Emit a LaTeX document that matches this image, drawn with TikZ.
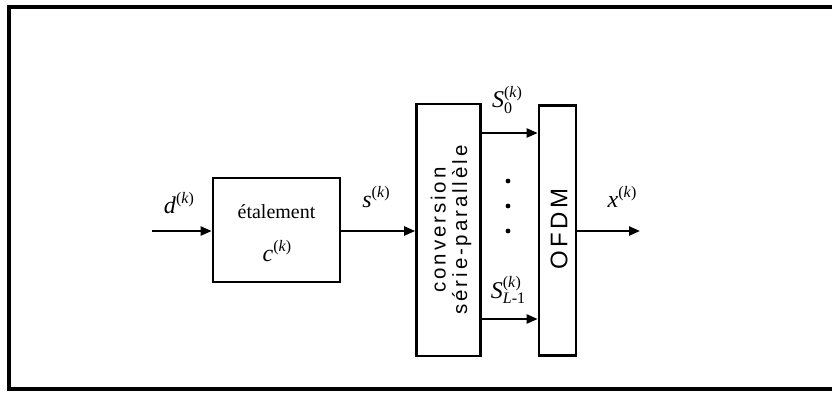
\documentclass[tikz,border=0pt]{standalone}
\usepackage{fontspec}
\setmainfont{Liberation Serif}
\newfontfamily\boxsans[LetterSpace=14]{Liberation Sans}
\usetikzlibrary{arrows.meta}
\tikzset{
  blk/.style={draw, line width=2.6pt, inner sep=0pt},
  conn/.style={line width=2.2pt, -{Triangle[length=11pt,width=9pt]}},
  lab/.style={font=\fontsize{24}{26}\selectfont, inner sep=0pt},
  frameline/.style={line width=3.2pt}
}
\newcommand{\kup}{\raisebox{0.95ex}{\fontsize{16}{18}\selectfont(\textit{k})}}
\newcommand{\supk}[1]{\textit{#1}\kup}
\begin{document}
\begin{tikzpicture}[x=1pt,y=-1pt]
\useasboundingbox (0,0) rectangle (832,394);
% frame (open on the right)
\draw[frameline] (832,7) -- (9,7) -- (9,389) -- (832,389);
% blocks
\node[blk, minimum width=127pt, minimum height=104pt] (etal) at (276.5,230) {};
\node[blk, minimum width=64pt, minimum height=252pt] (conv) at (448.5,230) {};
\node[blk, minimum width=37pt, minimum height=250pt] (ofdm) at (557.5,230.5) {};
% block texts
\node[font=\fontsize{20}{22}\selectfont, inner sep=0pt] (etaltxt) at (276.5,212) {étalement};
\node[lab] (ck) at (277,251) {\supk{c}};
\node[rotate=90, align=center, inner sep=0pt, font=\boxsans\fontsize{20.5}{21.5}\selectfont] (convtxt) at (451,230) {conversion\\série-parallèle};
\node[rotate=90, inner sep=0pt, font=\boxsans\fontsize{24}{24}\selectfont] (ofdmtxt) at (559,229) {OFDM};
% input / output
\coordinate (in) at (152,231);
\coordinate (out) at (640,231);
\draw[conn] (in) -- (etal.west |- in);
\draw[conn] (etal.east |- in) -- (conv.west |- in);
\draw[conn] (ofdm.east |- out) -- (out);
% parallel arrows
\coordinate (p0) at (481,133);
\coordinate (pL) at (481,319);
\draw[conn] (conv.east |- p0) -- (ofdm.west |- p0);
\draw[conn] (conv.east |- pL) -- (ofdm.west |- pL);
% dots
\foreach \yy [count=\i] in {181,206,231} {
  \fill (508,\yy) circle (2.4pt) coordinate (dot\i);
}
% labels
\node[lab] (dk) at (179,203) {\supk{d}};
\node[lab] (sk) at (376,197) {\supk{s}};
\node[lab] (s0) at (511,100) {\textit{S}\rlap{\kup}\raisebox{-0.5ex}{\fontsize{16}{18}\selectfont 0}\hphantom{\kup}};
\node[lab] (sL) at (508,290) {\textit{S}\rlap{\kup}\raisebox{-0.5ex}{\fontsize{16}{18}\selectfont\textit{L}-1}};
\node[lab] (xk) at (622,197) {\supk{x}};
\end{tikzpicture}
\end{document}
